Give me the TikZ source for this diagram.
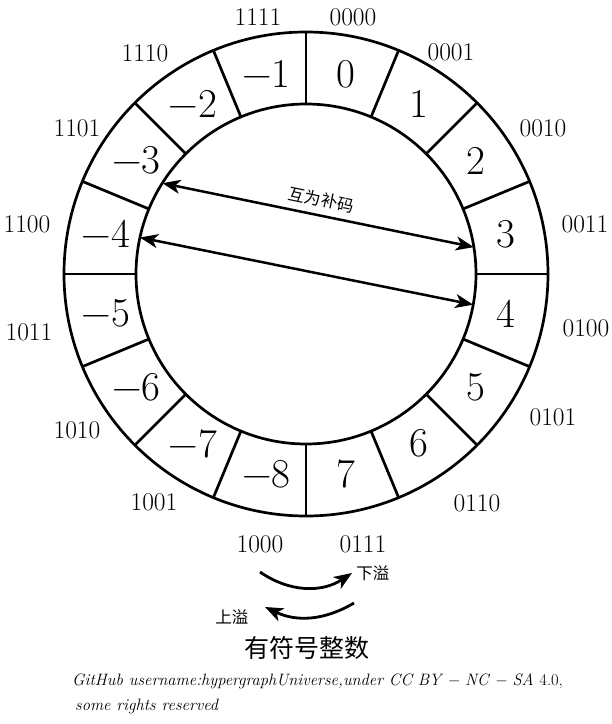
\documentclass[tikz,border=0pt]{standalone}
\usepackage{fontspec}
\newfontfamily\cjk{Noto Sans CJK SC}
\usetikzlibrary{arrows.meta}
\begin{document}
\begin{tikzpicture}[
  ring/.style={line width=2.7pt},
  arr/.style={line width=2.5pt, {Stealth[length=18pt,width=14pt,inset=5pt]}-{Stealth[length=18pt,width=14pt,inset=5pt]}},
  onearr/.style={line width=2.8pt, -{Stealth[length=18pt,width=14pt,inset=5pt]}},
  num/.style={inner sep=0pt, font=\fontsize{41}{48}\selectfont},
  bin/.style={inner sep=0pt, font=\fontsize{25.5}{30}\selectfont},
  cjklab/.style={inner sep=1pt, font=\cjk\fontsize{16.5}{19}\selectfont},
  caption/.style={inner sep=0pt, font=\cjk\fontsize{25}{30}\selectfont},
  foot/.style={inner sep=0pt, anchor=west, font=\fontsize{16.5}{19}\selectfont\itshape}
]
\useasboundingbox (-306pt,-450pt) rectangle (306pt,274pt);
% ring
\draw[ring] (0,0) circle (242pt);
\draw[ring] (0,0) circle (170pt);
\foreach \k in {0,...,15} {
  \draw[ring] ({90-22.5*\k}:170pt) -- ({90-22.5*\k}:242pt);
}
% values
\foreach \k in {0,...,7} {
  \node[num] (p\k) at ({78.75-22.5*\k}:204pt) {\k};
}
\foreach \j in {1,...,8} {
  \node[num] (m\j) at ({101.25+22.5*(\j-1)}:204pt) {−\j};
}
% binary codes
\foreach \t/\x/\y in {0000/47/257, 1111/-48/257, 0001/145/222, 1110/-161/221,
  0010/237/146, 1101/-229/146, 0011/279/50, 1100/-279/50,
  0100/280/-54, 1011/-277/-58, 0101/247/-143, 1010/-229/-156,
  0110/171/-229, 1001/-152/-228, 0111/57/-270, 1000/-46/-270} {
  \node[bin] (b\t) at (\x pt,\y pt) {\t};
}
% complement arrows
\coordinate (a1) at (147.7:170pt);
\coordinate (a2) at (9.1:170pt);
\coordinate (a3) at (167.6:170pt);
\coordinate (a4) at (-10.4:170pt);
\draw[arr] (a1) -- node[midway, above=6pt, sloped, cjklab] (lab) {互为补码} (a2);
\draw[arr] (a3) -- (a4);
% overflow arrows
\coordinate (u1) at (-46pt,-298pt);
\coordinate (u2) at (46pt,-299pt);
\coordinate (l1) at (48pt,-329pt);
\coordinate (l2) at (-41pt,-333pt);
\draw[onearr] (u1) to[bend right=34] (u2);
\draw[onearr] (l1) to[bend left=28] (l2);
\node[cjklab] (under) at (67pt,-299pt) {下溢};
\node[cjklab] (over) at (-74pt,-343pt) {上溢};
% caption
\node[caption] (cap) at (1pt,-374pt) {有符号整数};
\node[foot] (f1) at (-234pt,-407pt) {GitHub username:hypergraphUniverse,under CC BY − NC − SA \upshape 4.0,};
\node[foot] (f2) at (-231pt,-432pt) {some rights reserved};
\end{tikzpicture}
\end{document}
